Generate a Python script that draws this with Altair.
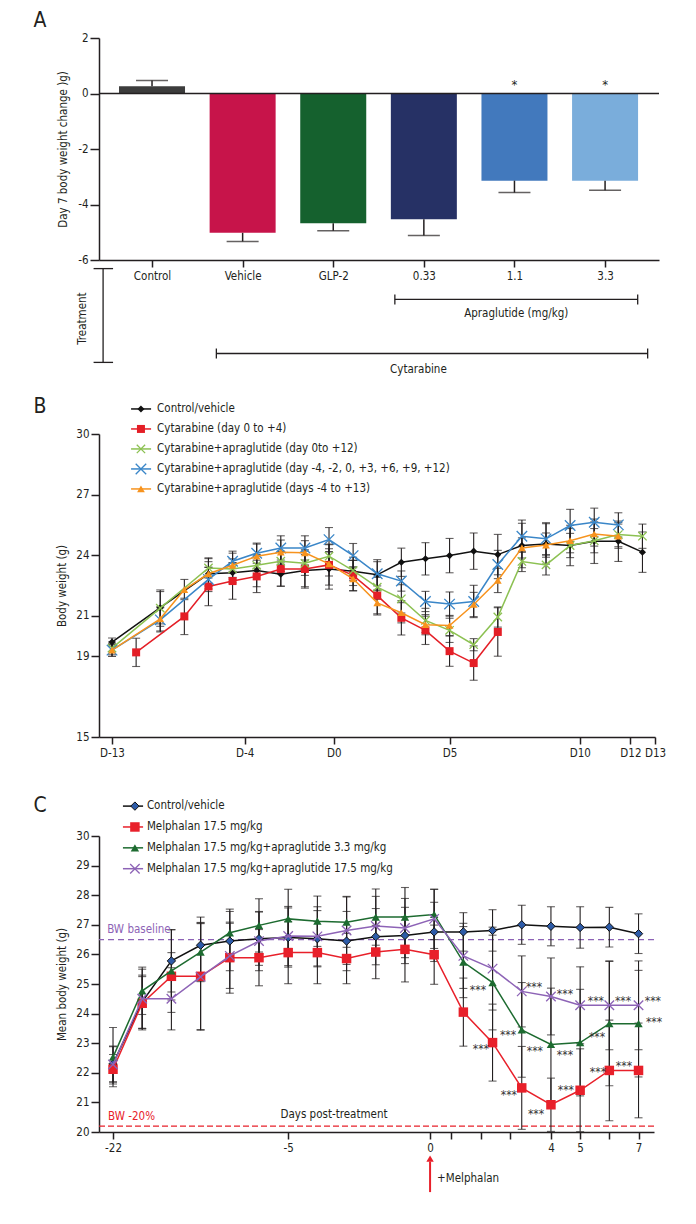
import json
import altair as alt
import pandas as pd

FONT = "Liberation Sans Narrow, DejaVu Sans Condensed, Liberation Sans, sans-serif"
INK = "#231f20"
X_SHAPE = "M-1,-1L1,1M-1,1L1,-1"

# ===================== DATA =====================
# ---- Panel A: day-7 body weight change (g)
A_categories = ["Control", "Vehicle", "GLP-2", "0.33", "1.1", "3.3"]
A_change = [0.26, -5.02, -4.68, -4.53, -3.14, -3.14]
A_sem = [0.21, 0.31, 0.27, 0.59, 0.43, 0.35]
A_stars = ["", "", "", "", "*", "*"]
A_y_ticks = [-6, -4, -2, 0, 2]
A_colors = ["#3c3c3c", "#c7144a", "#15612e", "#263165", "#4279bd", "#7aaddb"]

# ---- Panel B: body weight (g), cytarabine study
B_x_ticks = [0, 5.5, 9.2, 14, 19.4, 21.5, 22.52]
B_x_labels = ["D-13", "D-4", "D0", "D5", "D10", "D12", "D13"]
B_y_ticks = [15, 19, 21, 24, 27, 30]
B_names = ["Control/vehicle", "Cytarabine (day 0 to +4)",
           "Cytarabine+apraglutide (day 0to +12)",
           "Cytarabine+apraglutide (day -4, -2, 0, +3, +6, +9, +12)",
           "Cytarabine+apraglutide (days -4 to +13)"]

B_ctrl_x = [0, 2, 4, 5, 6, 7, 8, 9, 10, 11, 12, 13, 14, 15, 16, 17, 18, 19, 20, 21, 22]
B_ctrl_y = [19.7, 21.4, 23.08, 23.13, 23.24, 23.06, 23.24, 23.32, 23.2, 23.03, 23.65, 23.82,
            23.98, 24.2, 24.03, 24.48, 24.56, 24.48, 24.69, 24.69, 24.15]
B_ctrl_e = [0.2, 0.8, 0.75, 0.5, 0.8, 0.6, 0.8, 1.0, 0.7, 0.75, 0.7, 0.8, 0.85, 0.9, 1.0,
            1.1, 1.0, 1.0, 1.1, 1.0, 1.0]

B_cyt_x = [1, 3, 4, 5, 6, 7, 8, 9, 10, 11, 12, 13, 14, 15, 16]
B_cyt_y = [19.19, 20.97, 22.45, 22.72, 22.95, 23.32, 23.32, 23.52, 23.0, 22.0, 20.9, 20.28,
           19.25, 18.66, 20.2]
B_cyt_e = [0.7, 0.9, 0.95, 0.9, 0.8, 0.85, 0.95, 1.0, 0.75, 0.9, 0.85, 0.7, 0.75, 0.85, 1.2]

B_d0_x = [0, 2, 4, 5, 6, 7, 8, 9, 10, 11, 12, 13, 14, 15, 16, 17, 18, 19, 20, 21, 22]
B_d0_y = [19.4, 21.38, 23.37, 23.32, 23.5, 23.7, 23.6, 23.95, 23.24, 22.42, 21.84, 20.77,
          20.28, 19.57, 20.94, 23.69, 23.52, 24.48, 24.72, 25.02, 24.94]
B_d0_e = [0.3, 0.9, 0.5, 0.5, 0.5, 0.5, 0.6, 0.6, 0.5, 0.6, 0.7, 0.6, 0.6, 0.3, 0.5, 0.5,
          0.5, 0.6, 0.6, 0.6, 0.6]

B_int_x = [0, 2, 4, 5, 6, 7, 8, 9, 10, 11, 12, 13, 14, 15, 16, 17, 18, 19, 20, 21]
B_int_y = [19.3, 20.8, 22.8, 23.7, 24.1, 24.36, 24.36, 24.77, 23.98, 23.08, 22.72, 21.71,
           21.58, 21.71, 23.54, 24.94, 24.81, 25.47, 25.63, 25.5]
B_int_e = [0.3, 0.6, 0.6, 0.5, 0.5, 0.6, 0.6, 0.6, 0.6, 0.6, 0.5, 0.5, 0.6, 0.8, 0.7, 0.8,
           0.8, 0.8, 0.7, 0.6]

B_cont_x = [0, 2, 3, 4, 5, 6, 7, 8, 9, 10, 11, 12, 13, 14, 15, 16, 17, 18, 19, 20, 21]
B_cont_y = [19.3, 20.85, 22.3, 23.08, 23.5, 23.95, 24.15, 24.12, 23.57, 22.83, 21.64, 21.15,
            20.56, 20.52, 21.56, 22.75, 24.36, 24.5, 24.72, 25.05, 24.94]
B_cont_e = [0.3, 0.6, 0.5, 0.6, 0.6, 0.6, 0.6, 0.6, 0.6, 0.6, 0.6, 0.5, 0.5, 0.5, 0.6, 0.6,
            0.5, 0.6, 0.6, 0.6, 0.6]

# ---- Panel C: mean body weight (g), melphalan study
C_x_ticks = [0, 6, 10.86, 11.58, 12.6, 13.6, 15, 16, 17, 18]
C_x_labels = ["-22", "-5", "0", "", "", "", "4", "5", "", "7"]
C_y_ticks = [20, 21, 22, 23, 24, 25, 26, 27, 28, 29, 30]
C_names = ["Control/vehicle", "Melphalan 17.5 mg/kg",
           "Melphalan 17.5 mg/kg+apraglutide 3.3 mg/kg",
           "Melphalan 17.5 mg/kg+apraglutide 17.5 mg/kg"]
C_x = [0, 1, 2, 3, 4, 5, 6, 7, 8, 9, 10, 11, 12, 13, 14, 15, 16, 17, 18]
C_ctrl_y = [22.3, 24.4, 25.78, 26.31, 26.45, 26.53, 26.57, 26.53, 26.45, 26.6, 26.64, 26.76,
            26.76, 26.81, 27.0, 26.95, 26.91, 26.92, 26.7]
C_ctrl_e = [0.6, 0.9, 1.05, 0.95, 1.0, 0.9, 1.0, 0.95, 1.0, 0.95, 0.95, 1.0, 0.65, 0.7, 0.66,
            0.66, 0.7, 0.67, 0.67]
C_mel_y = [22.12, 24.35, 25.26, 25.26, 25.89, 25.89, 26.06, 26.06, 25.86, 26.08, 26.17, 25.99,
           24.05, 23.02, 21.49, 20.92, 21.41, 22.08, 22.08]
C_mel_e = [0.5, 0.9, 0.8, 1.8, 1.2, 0.95, 1.05, 1.05, 0.85, 0.9, 1.1, 1.0, 1.15, 1.3, 1.4,
           0.9, 1.4, 1.7, 1.6]
C_apr3_y = [22.53, 24.77, 25.44, 26.08, 26.73, 26.98, 27.2, 27.12, 27.09, 27.26, 27.26, 27.35,
            25.74, 25.05, 23.45, 22.96, 23.02, 23.66, 23.66]
C_apr3_e = [1.0, 0.8, 1.4, 1.0, 0.8, 0.9, 1.0, 0.85, 0.85, 0.95, 1.0, 0.85, 1.2, 1.6, 1.6,
            1.9, 1.8, 2.1, 1.8]
C_apr17_y = [22.28, 24.5, 24.5, 25.24, 25.95, 26.45, 26.62, 26.61, 26.81, 26.96, 26.89, 27.2,
             25.95, 25.52, 24.75, 24.58, 24.28, 24.28, 24.28]
C_apr17_e = [0.6, 1.0, 1.05, 1.8, 1.1, 1.0, 1.0, 1.0, 1.15, 1.0, 1.0, 1.0, 1.1, 1.4, 1.2,
             1.3, 1.3, 1.5, 1.5]
C_baseline = 26.5
C_minus20 = 20.2
# significance markers (***), located in data units
C_star_x = [12.5, 12.6, 13.53, 13.56, 14.42, 14.45, 14.49, 15.48, 15.48, 15.51, 16.54, 16.58,
            16.61, 17.47, 17.5, 18.49, 18.53]
C_star_y = [24.9, 22.9, 23.38, 21.35, 25.0, 22.84, 20.71, 24.76, 22.7, 21.52, 24.53, 23.31,
            22.13, 24.53, 22.33, 24.53, 23.82]


# ===================== HELPERS =====================
def num_js(v):
    return str(int(v)) if float(v).is_integer() else repr(float(v))


def label_expr(values, labels):
    expr = "''"
    for v, lab in reversed(list(zip(values, labels))):
        expr = f"abs(datum.value - {num_js(v)}) < 0.01 ? {json.dumps(lab)} : ({expr})"
    return expr


def letter(t, dx, dy):
    return alt.Chart(pd.DataFrame({"t": [t]})).mark_text(
        font=FONT, fontSize=21, color=INK, align="center", baseline="middle"
    ).encode(x=alt.value(dx), y=alt.value(dy), text="t:N")


class Panel:
    def __init__(self, xs, ys, xaxis, yaxis):
        self.xs, self.ys, self.xaxis, self.yaxis = xs, ys, xaxis, yaxis

    def X(self, f="x"):
        return alt.X(f"{f}:Q", scale=self.xs, axis=self.xaxis)

    def Y(self, f="y"):
        return alt.Y(f"{f}:Q", scale=self.ys, axis=self.yaxis)

    def errors(self, xv, yv, ev, cap=8, sw=1.1):
        df = pd.DataFrame({"x": xv, "lo": [a - b for a, b in zip(yv, ev)],
                           "hi": [a + b for a, b in zip(yv, ev)]})
        base = alt.Chart(df)
        return [
            base.mark_rule(color=INK, strokeWidth=sw).encode(x=self.X(), y=self.Y("lo"), y2="hi:Q"),
            base.mark_tick(color=INK, orient="horizontal", size=cap, thickness=sw).encode(x=self.X(), y=self.Y("lo")),
            base.mark_tick(color=INK, orient="horizontal", size=cap, thickness=sw).encode(x=self.X(), y=self.Y("hi")),
        ]

    def points(self, df, st):
        kw = dict(shape=st["shape"], size=st["size"], opacity=1)
        if st.get("filled", True):
            kw.update(filled=True, fill=st.get("fill", st["color"]))
            if "stroke" in st:
                kw.update(stroke=st["stroke"], strokeWidth=1)
        else:
            kw.update(filled=False, stroke=st["color"], strokeWidth=st.get("sw", 1.3))
        return alt.Chart(df).mark_point(**kw).encode(x=self.X(), y=self.Y())

    def series(self, xv, yv, st):
        df = pd.DataFrame({"x": xv, "y": yv})
        return [alt.Chart(df).mark_line(color=st["color"], strokeWidth=1.5).encode(x=self.X(), y=self.Y()),
                self.points(df, st)]

    def legend(self, names, styles, x_line, x_mark, x_text, y_top, y_step):
        out = []
        for r, (name, st) in enumerate(zip(names, styles)):
            yv = y_top - r * y_step
            seg = pd.DataFrame({"x": [x_line[0]], "x2": [x_line[1]], "y": [yv]})
            out.append(alt.Chart(seg).mark_rule(color=st["color"], strokeWidth=1.5)
                       .encode(x=self.X(), x2="x2:Q", y=self.Y()))
            out.append(self.points(pd.DataFrame({"x": [x_mark], "y": [yv]}), st))
            out.append(alt.Chart(pd.DataFrame({"x": [x_text], "y": [yv], "t": [name]}))
                       .mark_text(align="left", baseline="middle", font=FONT, fontSize=11.5, color=INK)
                       .encode(x=self.X(), y=self.Y(), text="t:N"))
        return out

    def texts(self, xv, yv, tv, **mk):
        df = pd.DataFrame({"x": xv, "y": yv, "t": tv})
        return alt.Chart(df).mark_text(font=FONT, **mk).encode(x=self.X(), y=self.Y(), text="t:N")

    def hline(self, yv, **mk):
        return alt.Chart(pd.DataFrame({"y": [yv]})).mark_rule(**mk).encode(y=self.Y())

    def segments(self, x1, x2, y1, y2, **mk):
        df = pd.DataFrame({"x": x1, "x2": x2, "y": y1, "y2": y2})
        return alt.Chart(df).mark_rule(**mk).encode(x=self.X(), x2="x2:Q", y=self.Y(), y2="y2:Q")


# ===================== PANEL A =====================
A_idx = list(range(len(A_categories)))
pa = Panel(
    alt.Scale(domain=[-0.53, 5.54], nice=False, zero=False),
    alt.Scale(domain=[-6, 2], nice=False, zero=False),
    alt.Axis(values=A_idx, labelExpr=label_expr(A_idx, A_categories), title=None,
             tickSize=7, labelPadding=3, labelOverlap=False, labelFlush=False),
    alt.Axis(values=A_y_ticks, labelExpr="'' + datum.value", title="Day 7 body weight change )g)",
             tickSize=9, titlePadding=9, labelPadding=2),
)
dfA = pd.DataFrame({"x": A_idx, "y": A_change, "cat": A_categories,
                    "tip": [v + (e if v >= 0 else -e) for v, e in zip(A_change, A_sem)],
                    "star": A_stars})
bars = alt.Chart(dfA).mark_bar(size=66).encode(
    x=pa.X(), y=pa.Y(), y2=alt.datum(0),
    color=alt.Color("cat:N", scale=alt.Scale(domain=A_categories, range=A_colors), legend=None))
a_err = alt.Chart(dfA).mark_rule(color=INK, strokeWidth=1.5).encode(x=pa.X(), y=pa.Y(), y2="tip:Q")
a_cap = alt.Chart(dfA).mark_tick(color=INK, orient="horizontal", size=32, thickness=1.5).encode(
    x=pa.X(), y=pa.Y("tip"))
a_zero = pa.hline(0, color=INK, strokeWidth=1.5)
a_star = alt.Chart(dfA).transform_calculate(sy="0.43").mark_text(
    font=FONT, fontSize=13, color=INK, baseline="alphabetic", dy=7).encode(
    x=pa.X(), y=pa.Y("sy"), text="star:N")
# treatment grouping brackets under the category axis
a_br = pa.segments([2.68, 2.68, 5.36, 0.71, 0.71, 5.47, -0.54, -0.645, -0.645],
                   [5.36, 2.68, 5.36, 5.47, 0.71, 5.47, -0.54, -0.43, -0.43],
                   [-7.42, -7.24, -7.24, -9.37, -9.19, -9.19, -6.31, -6.31, -9.69],
                   [-7.42, -7.60, -7.60, -9.37, -9.55, -9.55, -9.69, -6.31, -9.69],
                   color=INK, strokeWidth=1.3)
a_brt = pa.texts([4.02, 2.94], [-7.93, -9.95], ["Apraglutide (mg/kg)", "Cytarabine"],
                 fontSize=11.5, color=INK, baseline="middle", align="center")
a_treat = pa.texts([-0.76], [-8.11], ["Treatment"], fontSize=11.5, color=INK,
                   baseline="middle", align="center", angle=270)
panelA = alt.layer(bars, a_err, a_cap, a_zero, a_star, a_br, a_brt, a_treat,
                   letter("A", -59, -17)).properties(width=560, height=222)

# ===================== PANEL B =====================
pb = Panel(
    alt.Scale(domain=[-0.54, 22.52], nice=False, zero=False),
    alt.Scale(domain=[15, 30], nice=False, zero=False),
    alt.Axis(values=B_x_ticks, labelExpr=label_expr(B_x_ticks, B_x_labels), title=None,
             tickSize=7, labelPadding=3, labelOverlap=False, labelFlush=False),
    alt.Axis(values=B_y_ticks, title="Body weight (g)", tickSize=8, titlePadding=8,
             labelPadding=2, labelOverlap=False),
)
B_styles = [
    dict(color="#111111", shape="diamond", size=50),
    dict(color="#e41e26", shape="square", size=64),
    dict(color="#8cc152", shape=X_SHAPE, size=70, filled=False),
    dict(color="#3a86c8", shape=X_SHAPE, size=110, filled=False),
    dict(color="#f7931e", shape="triangle-up", size=60),
]
B_data = [(B_ctrl_x, B_ctrl_y, B_ctrl_e), (B_cyt_x, B_cyt_y, B_cyt_e), (B_d0_x, B_d0_y, B_d0_e),
          (B_int_x, B_int_y, B_int_e), (B_cont_x, B_cont_y, B_cont_e)]
b_layers = []
for xv, yv, ev in B_data:
    b_layers += pb.errors(xv, yv, ev, cap=8)
for (xv, yv, ev), st in zip(B_data, B_styles):
    b_layers += pb.series(xv, yv, st)
b_layers += pb.legend(B_names, B_styles, (0.79, 1.62), 1.2, 1.87, 31.24, 0.99)
b_layers.append(letter("B", -59, -27))
panelB = alt.layer(*b_layers).properties(width=556, height=303)

# ===================== PANEL C =====================
pc = Panel(
    alt.Scale(domain=[-0.48, 18.53], nice=False, zero=False),
    alt.Scale(domain=[20, 30], nice=False, zero=False),
    alt.Axis(values=C_x_ticks, labelExpr=label_expr(C_x_ticks, C_x_labels), title=None,
             tickSize=7, labelPadding=3, labelOverlap=False, labelFlush=False),
    alt.Axis(values=C_y_ticks, title="Mean body weight (g)", tickSize=8, titlePadding=8,
             labelPadding=2, labelOverlap=False),
)
C_styles = [
    dict(color="#111111", shape="diamond", size=70, fill="#2d5ba8", stroke="#111111"),
    dict(color="#e8202a", shape="square", size=90),
    dict(color="#1d6b30", shape="triangle-up", size=70),
    dict(color="#8d63b6", shape=X_SHAPE, size=90, filled=False),
]
C_data = [(C_ctrl_y, C_ctrl_e), (C_mel_y, C_mel_e), (C_apr3_y, C_apr3_e), (C_apr17_y, C_apr17_e)]
c_layers = [
    pc.hline(C_baseline, color="#8d63b6", strokeWidth=1.3, strokeDash=[6, 4]),
    pc.hline(C_minus20, color="#e8202a", strokeWidth=1.3, strokeDash=[6, 3]),
]
for yv, ev in C_data:
    c_layers += pc.errors(C_x, yv, ev, cap=8)
for (yv, ev), st in zip(C_data, C_styles):
    c_layers += pc.series(C_x, yv, st)
c_layers.append(pc.texts(C_star_x, C_star_y, ["***"] * len(C_star_x), fontSize=12,
                         color="#333333", align="center", baseline="alphabetic", dy=7))
c_layers.append(pc.texts([-0.2], [26.82], ["BW baseline"], fontSize=11.5, color="#8d63b6",
                         align="left", baseline="middle"))
c_layers.append(pc.texts([-0.17], [20.5], ["BW -20%"], fontSize=11.5, color="#e8202a",
                         align="left", baseline="middle"))
c_layers.append(pc.texts([7.57], [20.57], ["Days post-treatment"], fontSize=11.5, color=INK,
                         align="center", baseline="middle"))
# melphalan dosing arrow below the axis
c_layers.append(pc.segments([10.86], [10.86], [17.97], [19.0], color="#e8202a", strokeWidth=2))
c_layers.append(alt.Chart(pd.DataFrame({"x": [10.86], "y": [19.1]})).mark_point(
    shape="triangle-up", size=55, filled=True, color="#e8202a", opacity=1).encode(x=pc.X(), y=pc.Y()))
c_layers.append(pc.texts([11.1], [18.41], ["+Melphalan"], fontSize=11.5, color=INK,
                         align="left", baseline="middle"))
c_layers += pc.legend(C_names, C_styles, (0.34, 1.03), 0.75, 1.16, 31.01, 0.705)
c_layers.append(letter("C", -59, -30))
panelC = alt.layer(*c_layers).properties(width=555, height=296)

# ===================== ASSEMBLY =====================
chart = alt.vconcat(
    panelA,
    alt.vconcat(panelB, panelC, spacing=36),
    spacing=20,
).properties(
    padding={"left": 25, "top": 2, "right": 5, "bottom": 5}
).configure_view(stroke=None).configure_axis(
    domainColor=INK, domainWidth=1.5, tickColor=INK, tickWidth=1.5,
    labelFont=FONT, labelFontSize=11.5, labelColor=INK,
    titleFont=FONT, titleFontSize=11.5, titleFontWeight="normal", titleColor=INK,
    grid=False,
)

chart.save("out.html", embed_options={"renderer": "svg", "actions": False})
